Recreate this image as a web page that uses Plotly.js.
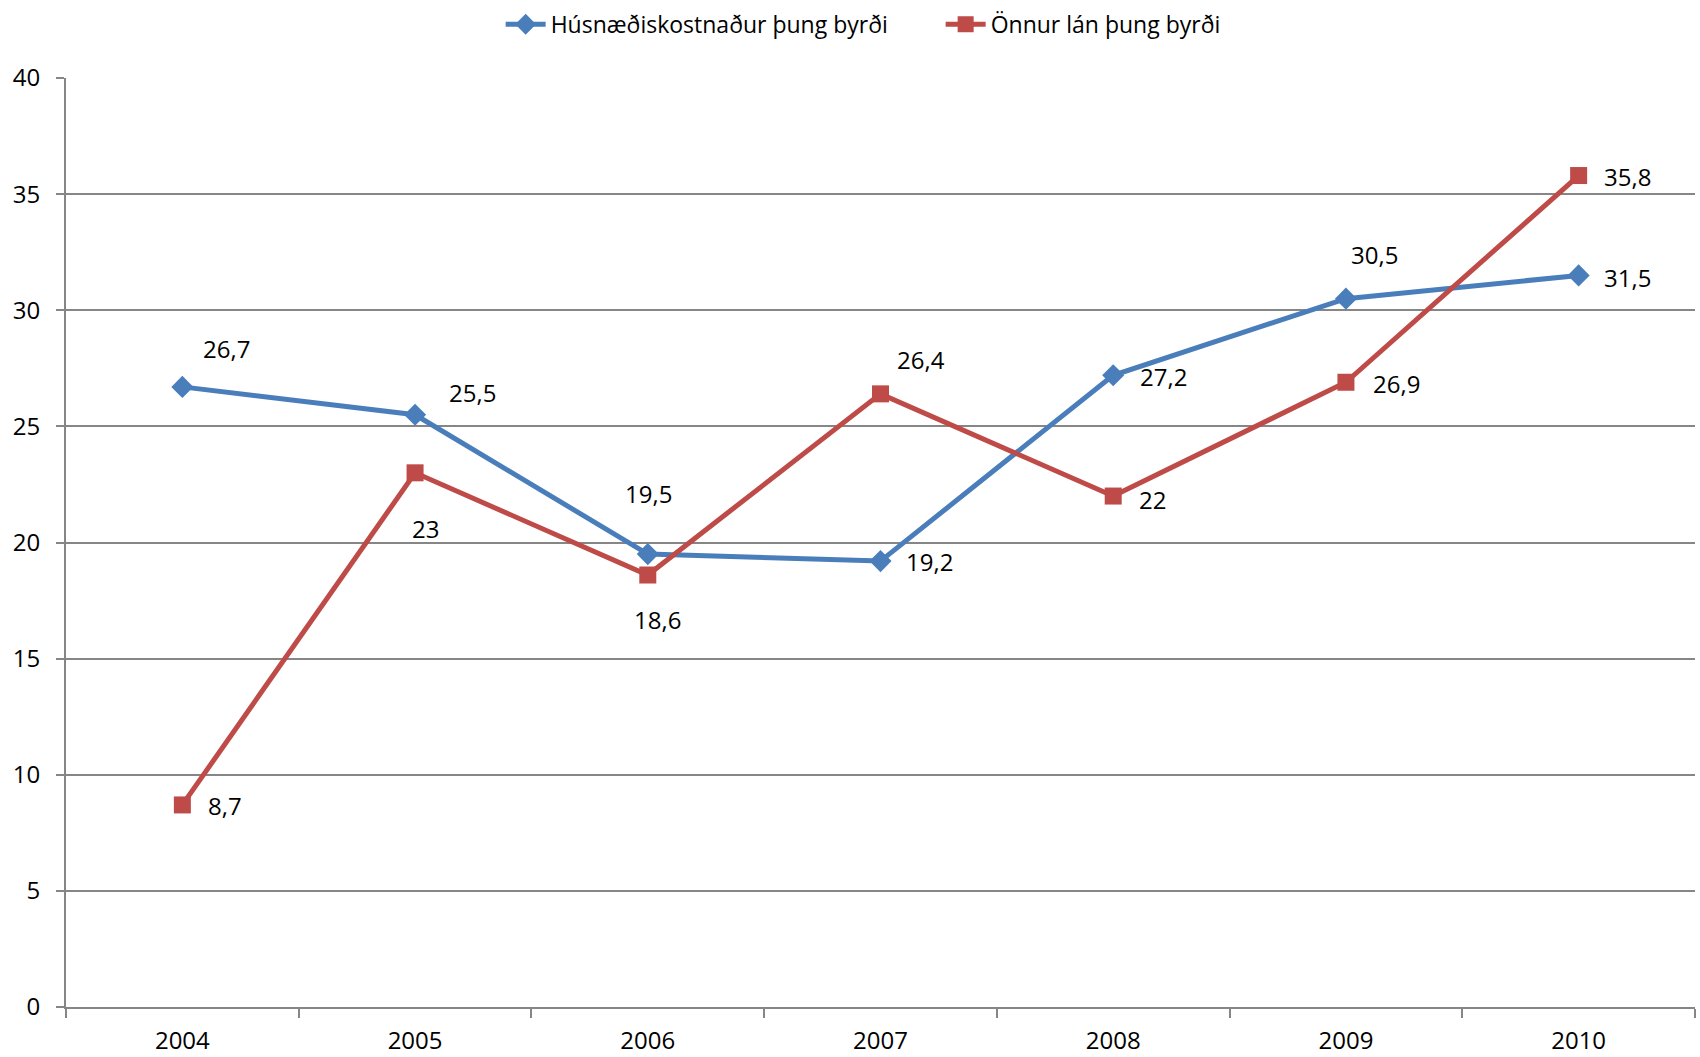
<!DOCTYPE html>
<html>
<head>
<meta charset="utf-8">
<script src="https://cdn.plot.ly/plotly-3.0.1.min.js"></script>
<style>html,body{margin:0;padding:0;background:#fff;}#chart{width:1700px;height:1057px;}</style>
</head>
<body>
<div id="chart"></div>
<script>
// Data
const years = ['2004', '2005', '2006', '2007', '2008', '2009', '2010'];
const husnaedi = [26.7, 25.5, 19.5, 19.2, 27.2, 30.5, 31.5];
const onnur = [8.7, 23, 18.6, 26.4, 22, 26.9, 35.8];
const seriesNames = ['Húsnæðiskostnaður þung byrði', 'Önnur lán þung byrði'];

// Label placement (pixel offsets from each point)
const shiftBlue = [[44, 38], [57, 22], [1, 61], [49, 0], [50, -1], [29, 44], [49, -2]];
const shiftRed = [[43, -1], [10, -56], [10, -44], [40, 34], [39, -3], [51, -1], [49, -1]];

const blue = '#4A7EBB';
const red = '#BE4B48';
const font = 'Open Sans, Noto Sans, sans-serif';

const fmt = v => String(v).replace('.', ',');

const traces = [
  {
    x: years, y: husnaedi, name: seriesNames[0], type: 'scatter', mode: 'lines+markers',
    line: {color: blue, width: 5},
    marker: {symbol: 'diamond', size: 17, color: blue}
  },
  {
    x: years, y: onnur, name: seriesNames[1], type: 'scatter', mode: 'lines+markers',
    line: {color: red, width: 5},
    marker: {symbol: 'square', size: 17, color: red}
  }
];

const annotations = [];
function addLabels(vals, shifts) {
  vals.forEach((v, i) => {
    annotations.push({
      x: i, y: v, xref: 'x', yref: 'y', text: fmt(v), showarrow: false,
      xanchor: 'center', yanchor: 'middle',
      xshift: shifts[i][0], yshift: shifts[i][1],
      font: {family: font, size: 24, color: '#000'}
    });
  });
}
addLabels(husnaedi, shiftBlue);
addLabels(onnur, shiftRed);

const layout = {
  width: 1700, height: 1057,
  margin: {l: 66, r: 5, t: 78, b: 50, autoexpand: false},
  paper_bgcolor: '#fff', plot_bgcolor: '#fff',
  font: {family: font, size: 24, color: '#000'},
  showlegend: true,
  legend: {
    orientation: 'h', xref: 'container', yref: 'container',
    x: 0.2945, xanchor: 'left', y: 0.977, yanchor: 'middle',
    font: {family: font, size: 23, color: '#000'}, itemwidth: 40, traceorder: 'normal',
    entrywidth: 385, entrywidthmode: 'pixels'
  },
  xaxis: {
    type: 'category', range: [-0.5, 6.5],
    showline: true, linecolor: '#868686', linewidth: 2,
    ticks: 'outside', tickson: 'boundaries', ticklen: 9, tickcolor: '#868686', tickwidth: 2,
    showgrid: false, zeroline: false, ticklabelstandoff: 11,
    tickfont: {family: font, size: 24, color: '#000'}
  },
  yaxis: {
    range: [0, 40], dtick: 5, tick0: 0,
    showline: true, linecolor: '#868686', linewidth: 2,
    ticks: 'outside', ticklen: 8, tickcolor: '#868686', tickwidth: 2,
    showgrid: true, gridcolor: '#868686', gridwidth: 1.5, zeroline: false,
    ticklabelstandoff: 11,
    tickfont: {family: font, size: 24, color: '#000'}
  },
  annotations: annotations
};

Plotly.newPlot('chart', traces, layout, {displayModeBar: false, responsive: false});
</script>
</body>
</html>
